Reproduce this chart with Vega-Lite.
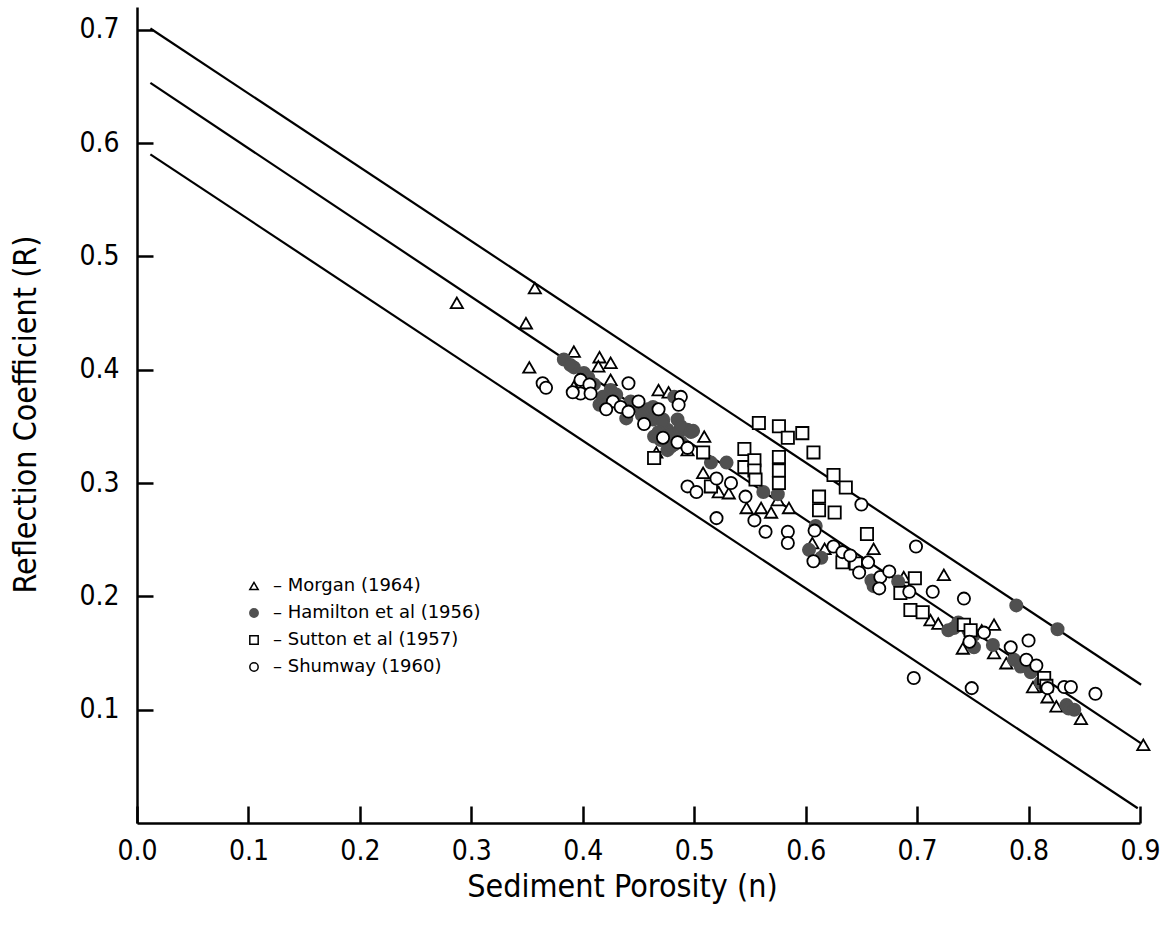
{
  "$schema": "https://vega.github.io/schema/vega-lite/v6.json",
  "width": 1003,
  "height": 816,
  "autosize": {"type": "none"},
  "padding": {"left": 137, "top": 7, "right": 25, "bottom": 103},
  "background": "white",
  "config": {
    "view": {"stroke": null},
    "axis": {
      "grid": false,
      "domainColor": "black",
      "domainWidth": 2.5,
      "ticks": true,
      "tickColor": "black",
      "tickWidth": 2.5,
      "tickSize": -16,
      "labelFlush": false,
      "labelColor": "black",
      "labelFont": "DejaVu Sans Condensed, Liberation Sans Narrow, DejaVu Sans",
      "labelFontSize": 28,
      "titleColor": "black",
      "titleFont": "DejaVu Sans Condensed, Liberation Sans Narrow, DejaVu Sans",
      "titleFontSize": 32,
      "titleFontWeight": "normal"
    }
  },
  "layer": [
    {
      "data": {
        "values": [
          {"n": 0.012, "R": 0.701, "line": "upper"},
          {"n": 0.901, "R": 0.122, "line": "upper"},
          {"n": 0.012, "R": 0.653, "line": "middle"},
          {"n": 0.903, "R": 0.069, "line": "middle"},
          {"n": 0.012, "R": 0.590, "line": "lower"},
          {"n": 0.898, "R": 0.013, "line": "lower"}
        ]
      },
      "mark": {"type": "line", "color": "black", "strokeWidth": 2.2},
      "encoding": {
        "x": {
          "field": "n", "type": "quantitative",
          "scale": {"domain": [0, 0.9], "nice": false, "zero": false},
          "axis": {
            "values": [0, 0.1, 0.2, 0.3, 0.4, 0.5, 0.6, 0.7, 0.8, 0.9],
            "format": ".1f",
            "tickSize": -17,
            "labelPadding": 31,
            "title": "Sediment Porosity (n)",
            "titleX": 485,
            "titleY": 63,
            "titleBaseline": "middle",
            "titleAlign": "center"
          }
        },
        "y": {
          "field": "R", "type": "quantitative",
          "scale": {"domain": [0, 0.72], "nice": false, "zero": false},
          "axis": {
            "values": [0.1, 0.2, 0.3, 0.4, 0.5, 0.6, 0.7],
            "format": ".1f",
            "tickSize": -16,
            "labelPadding": 34,
            "title": "Reflection Coefficient (R)",
            "titleAngle": -90,
            "titleX": -112,
            "titleY": 407,
            "titleBaseline": "middle",
            "titleAlign": "center"
          }
        },
        "detail": {"field": "line"}
      }
    },
    {
      "data": {
        "values": [
          {"n": 0.287, "R": 0.459, "s": "M"},
          {"n": 0.357, "R": 0.472, "s": "M"},
          {"n": 0.349, "R": 0.441, "s": "M"},
          {"n": 0.352, "R": 0.402, "s": "M"},
          {"n": 0.392, "R": 0.416, "s": "M"},
          {"n": 0.415, "R": 0.411, "s": "M"},
          {"n": 0.425, "R": 0.406, "s": "M"},
          {"n": 0.425, "R": 0.391, "s": "M"},
          {"n": 0.392, "R": 0.385, "s": "M"},
          {"n": 0.414, "R": 0.403, "s": "M"},
          {"n": 0.468, "R": 0.382, "s": "M"},
          {"n": 0.477, "R": 0.380, "s": "M"},
          {"n": 0.509, "R": 0.341, "s": "M"},
          {"n": 0.466, "R": 0.327, "s": "M"},
          {"n": 0.494, "R": 0.329, "s": "M"},
          {"n": 0.508, "R": 0.309, "s": "M"},
          {"n": 0.522, "R": 0.292, "s": "M"},
          {"n": 0.531, "R": 0.291, "s": "M"},
          {"n": 0.547, "R": 0.278, "s": "M"},
          {"n": 0.560, "R": 0.278, "s": "M"},
          {"n": 0.569, "R": 0.274, "s": "M"},
          {"n": 0.575, "R": 0.285, "s": "M"},
          {"n": 0.585, "R": 0.278, "s": "M"},
          {"n": 0.606, "R": 0.247, "s": "M"},
          {"n": 0.617, "R": 0.242, "s": "M"},
          {"n": 0.661, "R": 0.242, "s": "M"},
          {"n": 0.643, "R": 0.230, "s": "M"},
          {"n": 0.688, "R": 0.217, "s": "M"},
          {"n": 0.712, "R": 0.179, "s": "M"},
          {"n": 0.719, "R": 0.176, "s": "M"},
          {"n": 0.724, "R": 0.219, "s": "M"},
          {"n": 0.741, "R": 0.154, "s": "M"},
          {"n": 0.769, "R": 0.175, "s": "M"},
          {"n": 0.758, "R": 0.170, "s": "M"},
          {"n": 0.769, "R": 0.150, "s": "M"},
          {"n": 0.780, "R": 0.141, "s": "M"},
          {"n": 0.804, "R": 0.120, "s": "M"},
          {"n": 0.817, "R": 0.111, "s": "M"},
          {"n": 0.825, "R": 0.103, "s": "M"},
          {"n": 0.847, "R": 0.092, "s": "M"},
          {"n": 0.903, "R": 0.069, "s": "M"},

          {"n": 0.383, "R": 0.409, "s": "H"},
          {"n": 0.392, "R": 0.402, "s": "H"},
          {"n": 0.401, "R": 0.397, "s": "H"},
          {"n": 0.410, "R": 0.387, "s": "H"},
          {"n": 0.418, "R": 0.376, "s": "H"},
          {"n": 0.430, "R": 0.378, "s": "H"},
          {"n": 0.415, "R": 0.369, "s": "H"},
          {"n": 0.443, "R": 0.372, "s": "H"},
          {"n": 0.439, "R": 0.357, "s": "H"},
          {"n": 0.458, "R": 0.365, "s": "H"},
          {"n": 0.463, "R": 0.356, "s": "H"},
          {"n": 0.472, "R": 0.356, "s": "H"},
          {"n": 0.476, "R": 0.347, "s": "H"},
          {"n": 0.485, "R": 0.344, "s": "H"},
          {"n": 0.494, "R": 0.347, "s": "H"},
          {"n": 0.470, "R": 0.338, "s": "H"},
          {"n": 0.482, "R": 0.334, "s": "H"},
          {"n": 0.476, "R": 0.329, "s": "H"},
          {"n": 0.464, "R": 0.341, "s": "H"},
          {"n": 0.485, "R": 0.356, "s": "H"},
          {"n": 0.482, "R": 0.376, "s": "H"},
          {"n": 0.463, "R": 0.367, "s": "H"},
          {"n": 0.472, "R": 0.354, "s": "H"},
          {"n": 0.479, "R": 0.332, "s": "H"},
          {"n": 0.488, "R": 0.336, "s": "H"},
          {"n": 0.488, "R": 0.350, "s": "H"},
          {"n": 0.497, "R": 0.345, "s": "H"},
          {"n": 0.453, "R": 0.360, "s": "H"},
          {"n": 0.447, "R": 0.368, "s": "H"},
          {"n": 0.425, "R": 0.382, "s": "H"},
          {"n": 0.405, "R": 0.393, "s": "H"},
          {"n": 0.389, "R": 0.404, "s": "H"},
          {"n": 0.468, "R": 0.345, "s": "H"},
          {"n": 0.478, "R": 0.342, "s": "H"},
          {"n": 0.499, "R": 0.346, "s": "H"},
          {"n": 0.515, "R": 0.318, "s": "H"},
          {"n": 0.529, "R": 0.318, "s": "H"},
          {"n": 0.562, "R": 0.292, "s": "H"},
          {"n": 0.575, "R": 0.290, "s": "H"},
          {"n": 0.609, "R": 0.262, "s": "H"},
          {"n": 0.603, "R": 0.241, "s": "H"},
          {"n": 0.614, "R": 0.234, "s": "H"},
          {"n": 0.659, "R": 0.214, "s": "H"},
          {"n": 0.661, "R": 0.209, "s": "H"},
          {"n": 0.683, "R": 0.213, "s": "H"},
          {"n": 0.728, "R": 0.170, "s": "H"},
          {"n": 0.733, "R": 0.172, "s": "H"},
          {"n": 0.746, "R": 0.170, "s": "H"},
          {"n": 0.751, "R": 0.155, "s": "H"},
          {"n": 0.737, "R": 0.177, "s": "H"},
          {"n": 0.751, "R": 0.166, "s": "H"},
          {"n": 0.768, "R": 0.157, "s": "H"},
          {"n": 0.787, "R": 0.144, "s": "H"},
          {"n": 0.793, "R": 0.138, "s": "H"},
          {"n": 0.802, "R": 0.133, "s": "H"},
          {"n": 0.814, "R": 0.126, "s": "H"},
          {"n": 0.811, "R": 0.124, "s": "H"},
          {"n": 0.834, "R": 0.104, "s": "H"},
          {"n": 0.836, "R": 0.101, "s": "H"},
          {"n": 0.841, "R": 0.100, "s": "H"},
          {"n": 0.789, "R": 0.192, "s": "H"},
          {"n": 0.826, "R": 0.171, "s": "H"},

          {"n": 0.464, "R": 0.322, "s": "Q"},
          {"n": 0.508, "R": 0.327, "s": "Q"},
          {"n": 0.515, "R": 0.297, "s": "Q"},
          {"n": 0.558, "R": 0.353, "s": "Q"},
          {"n": 0.576, "R": 0.350, "s": "Q"},
          {"n": 0.584, "R": 0.340, "s": "Q"},
          {"n": 0.597, "R": 0.344, "s": "Q"},
          {"n": 0.607, "R": 0.327, "s": "Q"},
          {"n": 0.545, "R": 0.330, "s": "Q"},
          {"n": 0.545, "R": 0.314, "s": "Q"},
          {"n": 0.554, "R": 0.320, "s": "Q"},
          {"n": 0.554, "R": 0.311, "s": "Q"},
          {"n": 0.555, "R": 0.303, "s": "Q"},
          {"n": 0.576, "R": 0.323, "s": "Q"},
          {"n": 0.576, "R": 0.311, "s": "Q"},
          {"n": 0.576, "R": 0.300, "s": "Q"},
          {"n": 0.625, "R": 0.307, "s": "Q"},
          {"n": 0.636, "R": 0.296, "s": "Q"},
          {"n": 0.612, "R": 0.288, "s": "Q"},
          {"n": 0.612, "R": 0.276, "s": "Q"},
          {"n": 0.626, "R": 0.274, "s": "Q"},
          {"n": 0.655, "R": 0.255, "s": "Q"},
          {"n": 0.633, "R": 0.230, "s": "Q"},
          {"n": 0.645, "R": 0.229, "s": "Q"},
          {"n": 0.685, "R": 0.203, "s": "Q"},
          {"n": 0.698, "R": 0.216, "s": "Q"},
          {"n": 0.694, "R": 0.188, "s": "Q"},
          {"n": 0.705, "R": 0.186, "s": "Q"},
          {"n": 0.742, "R": 0.175, "s": "Q"},
          {"n": 0.748, "R": 0.170, "s": "Q"},
          {"n": 0.814, "R": 0.128, "s": "Q"},
          {"n": 0.816, "R": 0.121, "s": "Q"},

          {"n": 0.364, "R": 0.388, "s": "C"},
          {"n": 0.367, "R": 0.384, "s": "C"},
          {"n": 0.398, "R": 0.391, "s": "C"},
          {"n": 0.406, "R": 0.387, "s": "C"},
          {"n": 0.398, "R": 0.379, "s": "C"},
          {"n": 0.441, "R": 0.388, "s": "C"},
          {"n": 0.427, "R": 0.372, "s": "C"},
          {"n": 0.421, "R": 0.365, "s": "C"},
          {"n": 0.434, "R": 0.367, "s": "C"},
          {"n": 0.450, "R": 0.372, "s": "C"},
          {"n": 0.441, "R": 0.363, "s": "C"},
          {"n": 0.468, "R": 0.365, "s": "C"},
          {"n": 0.488, "R": 0.376, "s": "C"},
          {"n": 0.486, "R": 0.369, "s": "C"},
          {"n": 0.485, "R": 0.336, "s": "C"},
          {"n": 0.494, "R": 0.331, "s": "C"},
          {"n": 0.407, "R": 0.379, "s": "C"},
          {"n": 0.391, "R": 0.380, "s": "C"},
          {"n": 0.455, "R": 0.352, "s": "C"},
          {"n": 0.472, "R": 0.340, "s": "C"},
          {"n": 0.494, "R": 0.297, "s": "C"},
          {"n": 0.502, "R": 0.292, "s": "C"},
          {"n": 0.520, "R": 0.304, "s": "C"},
          {"n": 0.533, "R": 0.300, "s": "C"},
          {"n": 0.546, "R": 0.288, "s": "C"},
          {"n": 0.554, "R": 0.267, "s": "C"},
          {"n": 0.564, "R": 0.257, "s": "C"},
          {"n": 0.584, "R": 0.257, "s": "C"},
          {"n": 0.584, "R": 0.247, "s": "C"},
          {"n": 0.520, "R": 0.269, "s": "C"},
          {"n": 0.608, "R": 0.258, "s": "C"},
          {"n": 0.650, "R": 0.281, "s": "C"},
          {"n": 0.625, "R": 0.244, "s": "C"},
          {"n": 0.607, "R": 0.231, "s": "C"},
          {"n": 0.633, "R": 0.239, "s": "C"},
          {"n": 0.640, "R": 0.236, "s": "C"},
          {"n": 0.648, "R": 0.221, "s": "C"},
          {"n": 0.656, "R": 0.230, "s": "C"},
          {"n": 0.667, "R": 0.217, "s": "C"},
          {"n": 0.666, "R": 0.207, "s": "C"},
          {"n": 0.675, "R": 0.222, "s": "C"},
          {"n": 0.699, "R": 0.244, "s": "C"},
          {"n": 0.693, "R": 0.204, "s": "C"},
          {"n": 0.697, "R": 0.128, "s": "C"},
          {"n": 0.714, "R": 0.204, "s": "C"},
          {"n": 0.742, "R": 0.198, "s": "C"},
          {"n": 0.747, "R": 0.160, "s": "C"},
          {"n": 0.760, "R": 0.168, "s": "C"},
          {"n": 0.749, "R": 0.119, "s": "C"},
          {"n": 0.784, "R": 0.155, "s": "C"},
          {"n": 0.798, "R": 0.144, "s": "C"},
          {"n": 0.800, "R": 0.161, "s": "C"},
          {"n": 0.807, "R": 0.139, "s": "C"},
          {"n": 0.817, "R": 0.119, "s": "C"},
          {"n": 0.832, "R": 0.120, "s": "C"},
          {"n": 0.838, "R": 0.120, "s": "C"},
          {"n": 0.860, "R": 0.114, "s": "C"}
        ]
      },
      "mark": {"type": "point", "filled": false, "size": 150, "strokeWidth": 1.8, "opacity": 1},
      "encoding": {
        "x": {"field": "n", "type": "quantitative"},
        "y": {"field": "R", "type": "quantitative"},
        "shape": {
          "field": "s", "type": "nominal",
          "scale": {"domain": ["M", "H", "Q", "C"], "range": ["triangle-up", "circle", "square", "circle"]},
          "legend": {
            "orient": "none", "legendX": 108, "legendY": 570, "title": null,
            "labelFont": "DejaVu Sans", "labelFontSize": 18, "labelColor": "black", "labelLimit": 500,
            "symbolSize": 70, "rowPadding": 9, "labelOffset": 10,
            "labelExpr": "datum.label == 'M' ? '–  Morgan (1964)' : datum.label == 'H' ? '–  Hamilton  et al  (1956)' : datum.label == 'Q' ? '–  Sutton  et al  (1957)' : '–  Shumway (1960)'"
          }
        },
        "fill": {
          "field": "s", "type": "nominal",
          "scale": {"domain": ["M", "H", "Q", "C"], "range": ["white", "#505050", "white", "white"]},
          "legend": {
            "orient": "none", "legendX": 108, "legendY": 570, "title": null,
            "labelFont": "DejaVu Sans", "labelFontSize": 18, "labelColor": "black", "labelLimit": 500,
            "symbolSize": 70, "rowPadding": 9, "labelOffset": 10,
            "labelExpr": "datum.label == 'M' ? '–  Morgan (1964)' : datum.label == 'H' ? '–  Hamilton  et al  (1956)' : datum.label == 'Q' ? '–  Sutton  et al  (1957)' : '–  Shumway (1960)'"
          }
        },
        "stroke": {
          "field": "s", "type": "nominal",
          "scale": {"domain": ["M", "H", "Q", "C"], "range": ["black", "#505050", "black", "black"]},
          "legend": {
            "orient": "none", "legendX": 108, "legendY": 570, "title": null,
            "labelFont": "DejaVu Sans", "labelFontSize": 18, "labelColor": "black", "labelLimit": 500,
            "symbolSize": 70, "rowPadding": 9, "labelOffset": 10,
            "labelExpr": "datum.label == 'M' ? '–  Morgan (1964)' : datum.label == 'H' ? '–  Hamilton  et al  (1956)' : datum.label == 'Q' ? '–  Sutton  et al  (1957)' : '–  Shumway (1960)'"
          }
        }
      }
    }
  ]
}
